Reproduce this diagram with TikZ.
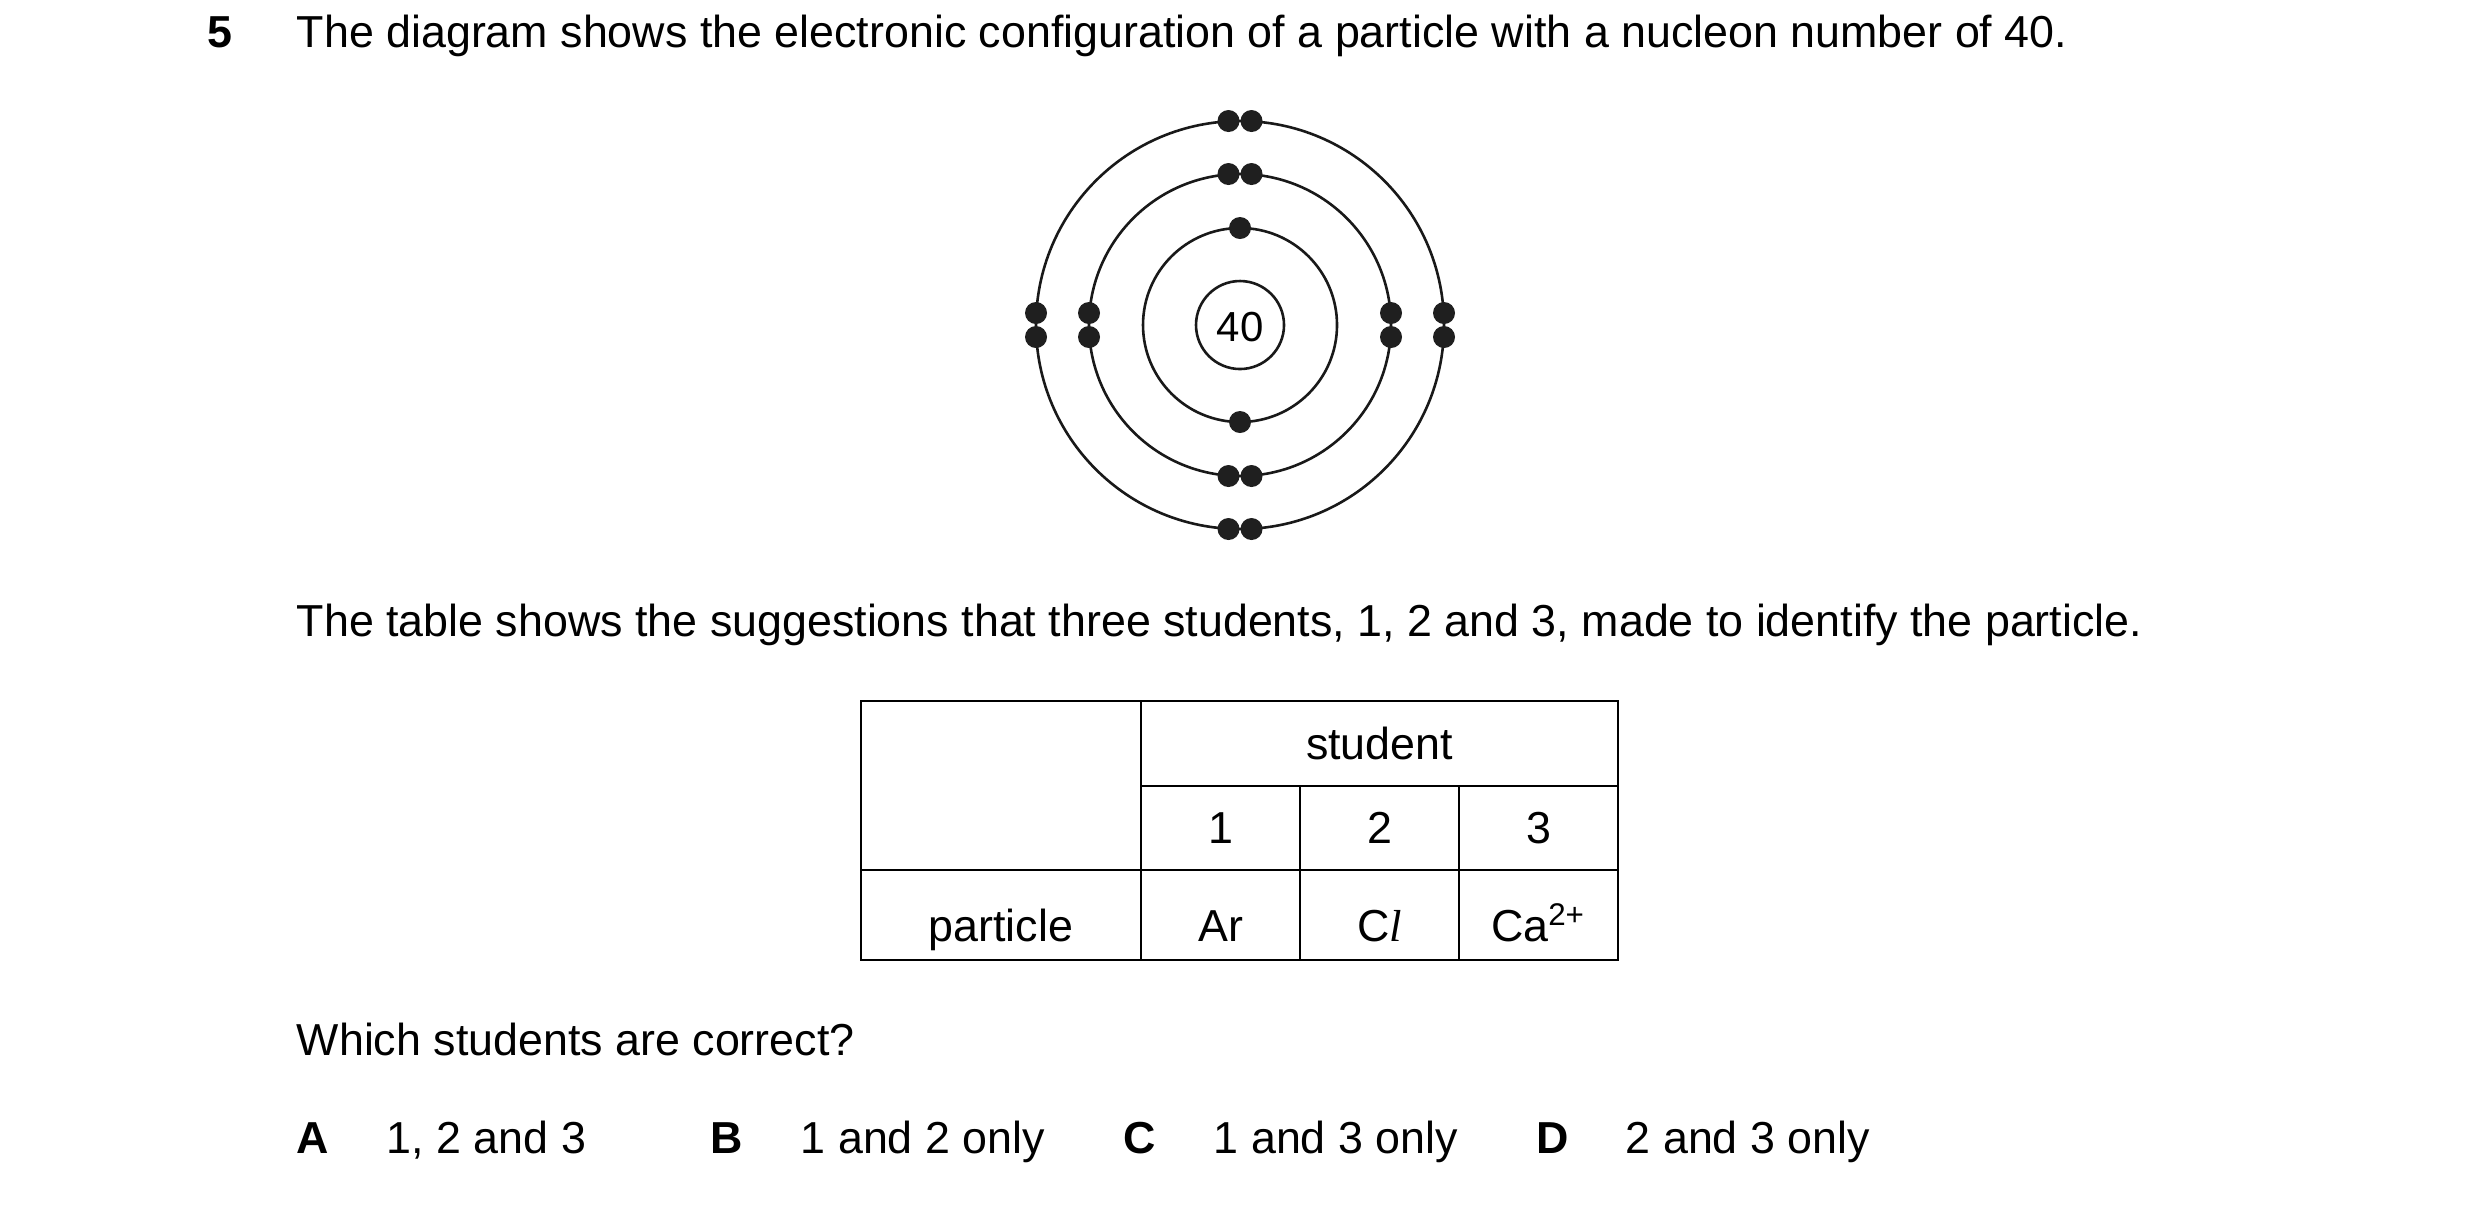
\documentclass[tikz,border=0pt]{standalone}
\usepackage{fontspec}
\setmainfont{Liberation Sans}
\newfontfamily\serifit{Liberation Serif}
\begin{document}
\begin{tikzpicture}[x=0.25pt,y=-0.25pt,
  txt/.style={anchor=base west,inner sep=0pt,font=\fontsize{11.2}{13}\selectfont},
  ctxt/.style={anchor=base,inner sep=0pt,font=\fontsize{11.2}{13}\selectfont},
  shell/.style={line width=0.65pt,draw=black!90},
  el/.style={fill=black!88},
  tab/.style={line width=0.4pt}]
\useasboundingbox (0,0) rectangle (2480,1204);
\node[txt,font=\fontsize{11.2}{13}\selectfont\bfseries] (q) at (207,47) {5};
\node[txt] (t1) at (296,47) {The diagram shows the electronic configuration of a particle with a nucleon number of 40.};
% atom
\coordinate (c) at (1240,325);
\draw[shell] (c) circle[radius=44];
\node[font=\fontsize{10.5}{12}\selectfont] (nuc) at (1240,327) {40};
\draw[shell] (c) circle[radius=97];
\draw[shell] (c) circle[radius=151];
\draw[shell] (c) circle[radius=204];
\fill[el] (1240,228) circle[radius=11] (1240,422) circle[radius=11];
\foreach \r in {151,204}{
  \fill[el] (1228.5,325-\r) circle[radius=11] (1251.5,325-\r) circle[radius=11]
            (1228.5,325+\r) circle[radius=11] (1251.5,325+\r) circle[radius=11]
            (1240-\r,313) circle[radius=11] (1240-\r,337) circle[radius=11]
            (1240+\r,313) circle[radius=11] (1240+\r,337) circle[radius=11];
}
\node[txt] (t2) at (296,636) {The table shows the suggestions that three students, 1, 2 and 3, made to identify the particle.};
% table
\draw[tab] (861,701) rectangle (1618,960);
\draw[tab] (1141,701) -- (1141,960);
\draw[tab] (1141,786) -- (1618,786);
\draw[tab] (861,870) -- (1618,870);
\draw[tab] (1300,786) -- (1300,960);
\draw[tab] (1459,786) -- (1459,960);
\node[ctxt] (st) at (1379.5,759) {student};
\node[ctxt] (s1) at (1220.5,843) {1};
\node[ctxt] (s2) at (1379.5,843) {2};
\node[ctxt] (s3) at (1538.5,843) {3};
\node[ctxt] (pa) at (1001,941) {particle};
\node[ctxt] (p1) at (1220.5,941) {Ar};
\node[ctxt] (p2) at (1379.5,941) {C{\serifit\itshape l}};
\node[ctxt] (p3) at (1538.5,941) {Ca\textsuperscript{2+}};
\node[txt] (t3) at (296,1055) {Which students are correct?};
\node[txt,font=\fontsize{11.2}{13}\selectfont\bfseries] (a) at (296,1153) {A};
\node[txt] (at) at (386,1153) {1, 2 and 3};
\node[txt,font=\fontsize{11.2}{13}\selectfont\bfseries] (b) at (710,1153) {B};
\node[txt] (bt) at (800,1153) {1 and 2 only};
\node[txt,font=\fontsize{11.2}{13}\selectfont\bfseries] (cc) at (1123,1153) {C};
\node[txt] (ct) at (1213,1153) {1 and 3 only};
\node[txt,font=\fontsize{11.2}{13}\selectfont\bfseries] (d) at (1536,1153) {D};
\node[txt] (dt) at (1625,1153) {2 and 3 only};
\end{tikzpicture}
\end{document}
